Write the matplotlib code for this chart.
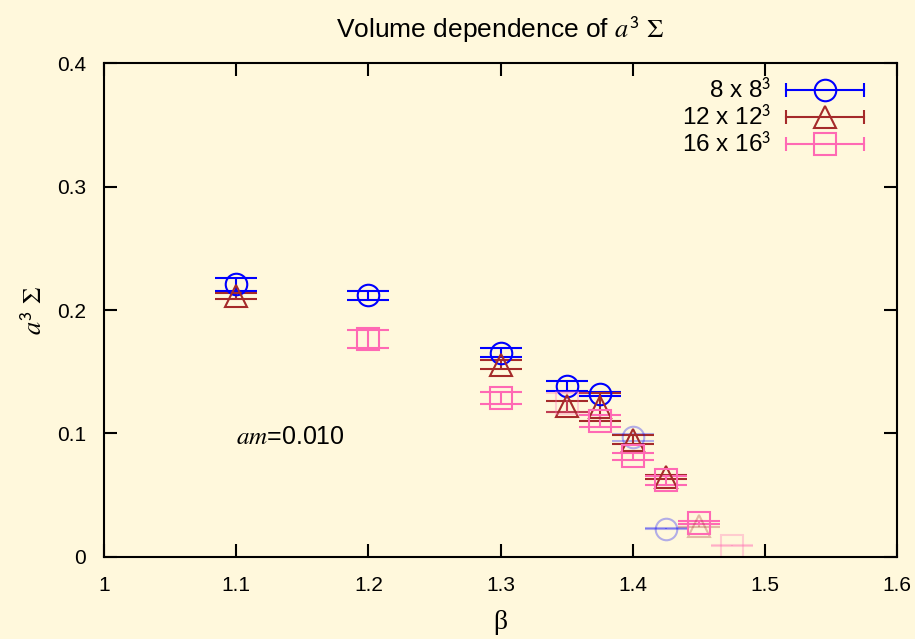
import numpy as np
import matplotlib
matplotlib.use("Agg")
from matplotlib import pyplot as plt
from matplotlib.lines import Line2D
from matplotlib.legend_handler import HandlerLine2D, HandlerTuple
from matplotlib.ticker import FormatStrFormatter

plt.rcParams['font.family'] = ['Liberation Sans', 'DejaVu Sans']
plt.rcParams['mathtext.fontset'] = 'stix'

# a^3 Sigma against beta, one set per lattice volume
beta_8 = [1.1, 1.2, 1.3, 1.35, 1.375, 1.4, 1.425]
sigma_8 = [0.221, 0.212, 0.1655, 0.1386, 0.132, 0.0967, 0.0228]
err_8 = [0.0053, 0.0037, 0.0037, 0.0039, 0.0017, 0.0025, 0.0005]
dim_8 = [False, False, False, False, False, True, True]

beta_12 = [1.1, 1.3, 1.35, 1.375, 1.4, 1.425, 1.45]
sigma_12 = [0.2114, 0.1558, 0.122, 0.1214, 0.095, 0.0646, 0.025]
err_12 = [0.0024, 0.0038, 0.0045, 0.0114, 0.0033, 0.002, 0.0012]
dim_12 = [False, False, False, False, False, False, True]

beta_16 = [1.2, 1.3, 1.35, 1.375, 1.4, 1.425, 1.45, 1.475]
sigma_16 = [0.1764, 0.129, 0.125, 0.110, 0.0813, 0.0618, 0.0276, 0.009]
err_16 = [0.0076, 0.0049, 0.008, 0.005, 0.003, 0.0034, 0.001, 0.0005]
dim_16 = [False, False, True, False, False, False, False, True]

labels = [r'8 x 8$^{\mathsf{3}}$', r'12 x 12$^{\mathsf{3}}$', r'16 x 16$^{\mathsf{3}}$']
colors = ['#0000ff', '#a52a2a', '#ff69b4']
markers = ['o', '^', 's']
sizes = [15.5, 16, 15.5]

bg = '#fff8dc'
fig = plt.figure(figsize=(9.15, 6.39), dpi=100, facecolor=bg)
ax = fig.add_axes([0.1137, 0.1288, 0.9803 - 0.1137, 0.9009 - 0.1288])
ax.set_facecolor(bg)

series = [(beta_8, sigma_8, err_8, dim_8),
          (beta_12, sigma_12, err_12, dim_12),
          (beta_16, sigma_16, err_16, dim_16)]

handles = []
hmap = {}
for (x, y, e, dim), c, m, ms, lab in zip(series, colors, markers, sizes, labels):
    x = np.array(x)
    y = np.array(y)
    e = np.array(e)
    dim = np.array(dim)
    for sel, a in ((~dim, 1.0), (dim, 0.3)):
        if not sel.any():
            continue
        ax.errorbar(x[sel], y[sel], yerr=e[sel], fmt=m, color=c, alpha=a,
                    mfc='none', mec=c, ms=ms, mew=1.5, elinewidth=1.5,
                    capsize=15, capthick=1.5)
    bar = Line2D([], [], color=c, lw=1.5, marker='|', ms=10, mew=1.5)
    pt = Line2D([], [], ls='none', color=c, marker=m, mfc='none', ms=ms, mew=1.5)
    hmap[bar] = HandlerLine2D(numpoints=2, marker_pad=0)
    handles.append((bar, pt))

hmap[tuple] = HandlerTuple(ndivide=1)
leg = ax.legend(handles, labels, handler_map=hmap, loc='upper right',
                bbox_to_anchor=(0.977, 1.0), frameon=False, markerfirst=False,
                fontsize=17.5, handlelength=3.2, handletextpad=0.6,
                labelspacing=0.05, borderaxespad=0.2)

ax.set_xlim(1, 1.6)
ax.set_ylim(0, 0.4)
ax.set_xticks(np.arange(1.0, 1.61, 0.1))
ax.set_yticks(np.arange(0, 0.41, 0.1))
ax.xaxis.set_major_formatter(FormatStrFormatter('%g'))
ax.yaxis.set_major_formatter(FormatStrFormatter('%g'))
ax.tick_params(direction='in', length=9.5, width=1.5, top=True, right=True,
               labelsize=15, colors='black')
ax.tick_params(axis='x', pad=14)
ax.tick_params(axis='y', pad=13)
for s in ax.spines.values():
    s.set_linewidth(1.5)

ax.text(1.1, 0.097, r'$am$=0.010', fontsize=18, ha='left', va='center')
ax.set_title(r'Volume dependence of $a^{\mathsf{3}}\ \Sigma$', fontsize=19, pad=18)
ax.set_xlabel('β', family='Liberation Serif', fontsize=20, labelpad=11)
ax.set_ylabel(r'$a^{\mathsf{3}}\ \Sigma$', fontsize=19, labelpad=7)

fig.savefig('out.png', dpi=100, facecolor=bg)
